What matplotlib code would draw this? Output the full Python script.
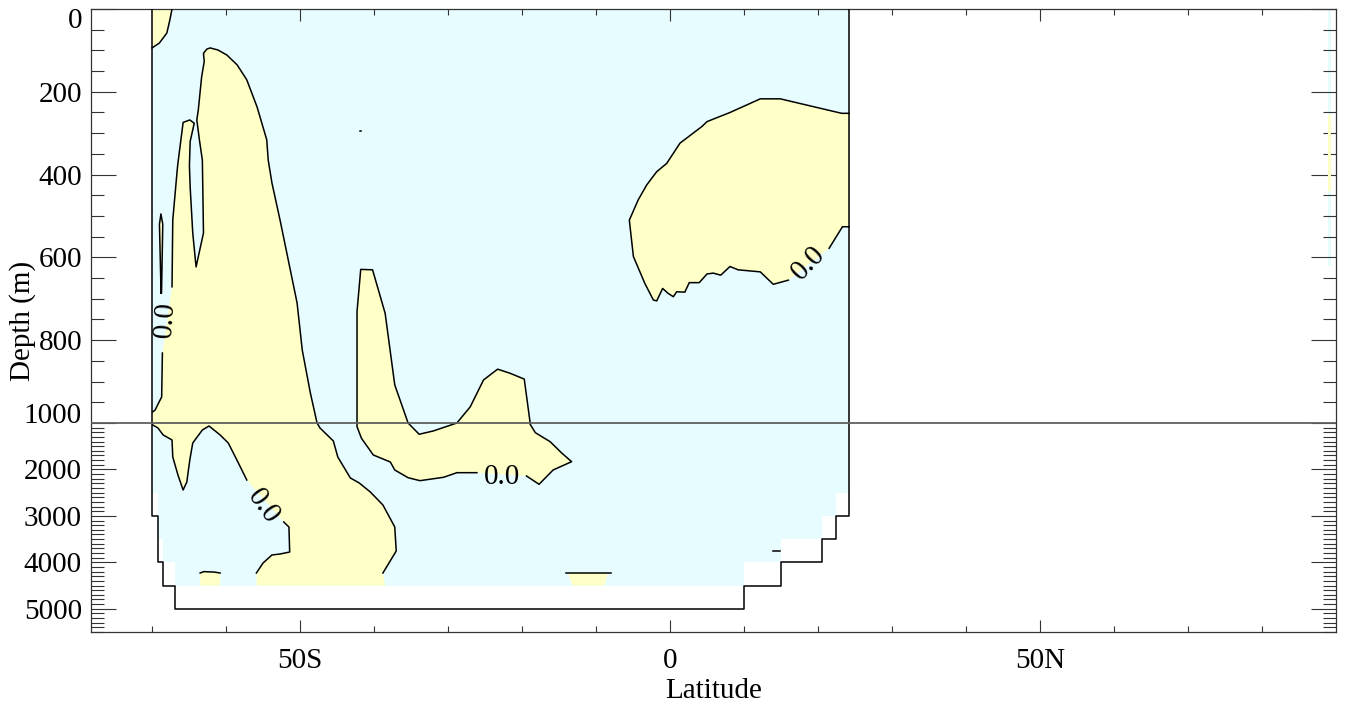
import numpy as np
import matplotlib
matplotlib.use("Agg")
import matplotlib.pyplot as plt
from matplotlib import transforms
from matplotlib.ticker import NullFormatter

plt.rcParams['font.family'] = ['Liberation Serif', 'DejaVu Serif']
plt.rcParams['font.size'] = 21

CYAN = '#E6FCFF'
YELLOW = '#FFFFC8'

# --- data (latitude, depth in m) read off the section ---
# wet part of the section (filled cells) and the model bottom
ocean_lat = [-70, -70, -69.15, -69.15, -68.5, -68.5, -66.9, -66.9, 10, 10, 15, 15, 20.5, 20.5, 22.4, 22.4, 24.2, 24.2]
ocean_dep = [0, 2500, 2500, 3500, 3500, 4000, 4000, 4500, 4500, 4000, 4000, 3500, 3500, 3000, 3000, 2500, 2500, 0]
topo_lat = [-70, -70, -69.15, -69.15, -68.5, -68.5, -66.9, -66.9, 10, 10, 15, 15, 20.5, 20.5, 22.4, 22.4, 24.2, 24.2]
topo_dep = [0, 3000, 3000, 4000, 4000, 4500, 4500, 5000, 5000, 4500, 4500, 4000, 4000, 3500, 3500, 3000, 3000, 0]

# zero contour pieces
surf_line = [(-70.0, 94), (-69.0, 82), (-68.0, 58), (-67.6, 27), (-67.3, 0)]

main_a = [(-69.9, 973), (-69.6, 969), (-68.7, 937), (-68.6, 831)]
main_b = [(-67.3, 671), (-67.2, 510), (-66.6, 389), (-66.5, 372), (-65.8, 274), (-64.9, 268),
          (-64.3, 276), (-64.85, 320), (-64.95, 379), (-64.85, 430), (-64.5, 541), (-64.05, 623),
          (-63.05, 541), (-63.2, 365), (-63.6, 316), (-63.95, 268), (-63.75, 244), (-63.3, 164),
          (-62.95, 127), (-63.05, 107), (-62.6, 97), (-62.15, 94), (-61.1, 99), (-59.9, 111),
          (-58.5, 135), (-57.2, 171), (-55.8, 237), (-54.5, 316), (-54.3, 365), (-53.8, 420),
          (-52.7, 510), (-51.4, 623), (-50.4, 710), (-49.7, 824), (-48.6, 928), (-47.7, 1000),
          (-47.3, 1108), (-45.5, 1388), (-44.9, 1732), (-43.2, 2184), (-42.0, 2292), (-40.5, 2486),
          (-38.8, 2766), (-37.2, 3239), (-37.0, 3756), (-38.8, 4230)]
main_end = [(-38.5, 4500), (-55.85, 4500)]

lower_a = [(-69.9, 1043), (-69.2, 1108), (-68.5, 1258), (-67.3, 1366), (-67.2, 1732), (-66.5, 2120),
           (-65.8, 2443), (-65.3, 2270), (-64.9, 1797), (-64.5, 1431), (-63.2, 1151), (-62.3, 1065),
           (-60.8, 1258), (-59.7, 1431), (-58.4, 1840), (-57.2, 2227)]
lower_b = [(-52.2, 3132), (-51.5, 3239), (-51.4, 3778), (-52.7, 3821), (-53.8, 3842), (-55.0, 4015),
           (-55.9, 4230)]

spike = [(-68.78, 686), (-69.0, 520), (-68.8, 495), (-68.55, 520), (-68.72, 686)]

mid_line = [(-19.4, 2141), (-17.7, 2320), (-15.8, 2012), (-13.3, 1833), (-14.6, 1652), (-16.2, 1403),
            (-18.2, 1209), (-18.9, 1028), (-18.9, 1000), (-19.7, 894), (-21.6, 880), (-23.3, 870),
            (-25.2, 896), (-27.0, 961), (-28.8, 1000), (-32.0, 1172), (-33.9, 1243), (-35.4, 1000),
            (-37.2, 908), (-38.5, 735), (-40.2, 630), (-41.8, 629), (-42.3, 731), (-42.3, 1000),
            (-42.3, 1080), (-41.7, 1329), (-40.1, 1689), (-37.8, 1840), (-37.2, 2012), (-35.4, 2178),
            (-33.8, 2242), (-30.6, 2169), (-28.8, 2070), (-26.1, 2070)]

right_a = [(24.2, 252), (23.2, 252), (19.4, 236), (14.9, 217), (12.2, 217), (8.1, 250), (5.0, 272),
           (4.3, 284), (1.35, 324), (-0.45, 373), (-1.8, 393), (-3.15, 425), (-4.3, 461), (-5.5, 510),
           (-4.95, 598), (-3.4, 663), (-2.25, 703), (-1.8, 705), (-1.0, 675), (-0.25, 687), (0.45, 695),
           (0.9, 683), (2.0, 684), (2.6, 661), (3.95, 661), (5.0, 640), (5.85, 638), (6.85, 643),
           (8.1, 622), (9.2, 630), (12.2, 635), (13.95, 665), (16.0, 655)]
right_b = [(21.5, 578), (23.3, 526), (24.2, 526)]

patch1_line = [(-63.5, 4230), (-63.0, 4200), (-61.6, 4210), (-60.8, 4230)]
patch1_end = [(-60.8, 4500), (-63.5, 4500)]
patch2_line = [(-14.05, 4230), (-7.95, 4230)]
patch2_fill = [(-13.8, 4230), (-8.4, 4230), (-8.85, 4500), (-13.2, 4500)]
dash = [(13.9, 3756), (14.9, 3756)]
dot = [(-41.85, 295), (-41.75, 295)]

strip_lat = [88.9, 89.35]
strip_cyan_dep = [0, 620]
strip_yel_dep = [255, 440]

# contour labels: lat, depth, rotation
clabels = [(-68.7, 750, 86), (-54.6, 2760, -54), (-22.7, 2098, 0), (18.4, 608, 46)]

x_major = [-50, 0, 50]
x_labels = ['50S', '0', '50N']
y_major = [0, 200, 400, 600, 800, 1000, 2000, 3000, 4000, 5000]


# depth axis: 0-1000 m stretched, 1000-5500 m squeezed
K = 0.1122

def fwd(d):
    d = np.asarray(d, dtype=float)
    return np.where(d <= 1000, d, 1000 + (d - 1000) * K)

def inv(z):
    z = np.asarray(z, dtype=float)
    return np.where(z <= 1000, z, 1000 + (z - 1000) / K)

def arr(p):
    return np.array(p, dtype=float)


fig = plt.figure(figsize=(13.47, 7.04), dpi=100)
ax = fig.add_axes([91 / 1347, 72 / 704, 1245 / 1347, 623 / 704])
ax.set_yscale('function', functions=(fwd, inv))
ax.set_xlim(-78.25, 90)
ax.set_ylim(5500, 0)

# fills
ax.fill(ocean_lat, ocean_dep, color=CYAN, lw=0, zorder=1)
ax.fill_betweenx(strip_cyan_dep, strip_lat[0], strip_lat[1], color=CYAN, lw=0, zorder=1)
ax.fill_betweenx(strip_yel_dep, strip_lat[0], strip_lat[1], color=YELLOW, lw=0, zorder=2)

main_poly = np.vstack([arr([(-70, 1043), (-70, 973)]), arr(main_a), arr(main_b), arr(main_end),
                       arr(lower_b)[::-1], arr(lower_a)[::-1]])
surf_poly = np.vstack([arr(surf_line), arr([(-70, 0)])])
right_poly = np.vstack([arr(right_a), arr(right_b)])
p1_poly = np.vstack([arr(patch1_line), arr(patch1_end)])

for poly in [main_poly, surf_poly, right_poly, p1_poly, arr(mid_line), arr(spike), arr(patch2_fill)]:
    ax.fill(poly[:, 0], poly[:, 1], color=YELLOW, lw=0, zorder=2)

# contour lines
lines = [surf_line, main_a, main_b, lower_a, lower_b, spike + spike[:1], mid_line,
         right_a, right_b, patch1_line, patch2_line, dash, dot]
for ln in lines:
    a = arr(ln)
    ax.plot(a[:, 0], a[:, 1], color='k', lw=1.1, zorder=3)

for lat, dep, rot in clabels:
    ax.text(lat, dep, '0.0', fontsize=21, rotation=rot, rotation_mode='anchor',
            ha='center', va='center_baseline', zorder=4)

# bottom / walls
ax.plot(topo_lat, topo_dep, color='k', lw=1.1, zorder=4)
ax.axhline(1000, color='#606060', lw=1.3, zorder=5)

# ticks
ax.set_xticks(x_major, x_labels)
ax.set_xticks(np.arange(-70, 90, 10), minor=True)
ax.set_yticks(y_major)
ax.set_yticks(np.concatenate([np.arange(0, 1000, 50), np.arange(1000, 5501, 100)]), minor=True)
ax.yaxis.set_major_formatter(NullFormatter())
ax.tick_params(axis='both', which='both', direction='in', top=True, right=True,
               color='#333333', width=0.8)
ax.tick_params(axis='y', which='major', length=18)
ax.tick_params(axis='y', which='minor', length=9.4)
ax.tick_params(axis='x', which='major', length=8.6, pad=11.5, labelsize=21)
ax.tick_params(axis='x', which='minor', length=4.3)
for s in ax.spines.values():
    s.set_linewidth(0.9)
    s.set_color('#333333')

ytrans = ax.get_yaxis_transform()
for v in y_major:
    dy = 0
    if v == 0:
        dy = -9
    elif v == 1000:
        dy = 10
    tr = transforms.offset_copy(ytrans, fig=fig, x=-9, y=dy, units='dots')
    ax.text(0, v, str(v), transform=tr, ha='right', va='center_baseline', fontsize=21)

fig.text(713.5 / 1347, 6 / 704, 'Latitude', ha='center', va='baseline', fontsize=21)
fig.text(30 / 1347, 383 / 704, 'Depth (m)', rotation=90, rotation_mode='anchor',
         ha='center', va='baseline', fontsize=21)

fig.savefig('out.png', dpi=100)
